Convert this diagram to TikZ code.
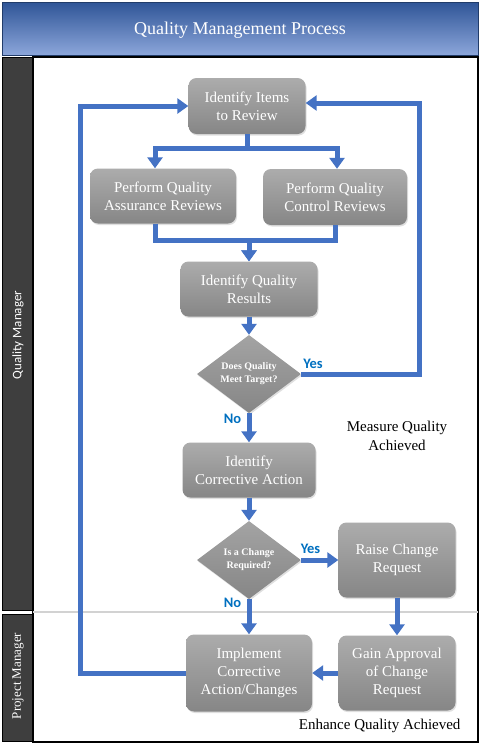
\documentclass[tikz,border=0pt]{standalone}
\usepackage{fontspec}
\setmainfont{Liberation Serif}
\newfontfamily\labelfont{Carlito}
\usetikzlibrary{shapes.geometric, arrows.meta, shadows}
\definecolor{flowBlue}{RGB}{68,114,196}
\definecolor{answerBlue}{RGB}{0,112,192}
\definecolor{titleTop}{RGB}{47,85,151}
\definecolor{titleBot}{RGB}{140,166,218}
\definecolor{boxTop}{RGB}{172,172,172}
\definecolor{boxBot}{RGB}{134,134,134}
\definecolor{laneDark}{RGB}{62,62,62}

\begin{document}
\begin{tikzpicture}[x=1pt, y=-1pt,
    procbox/.style={rectangle, rounded corners=8pt, top color=boxTop, bottom color=boxBot, text=white, align=center, font=\fontsize{15}{18}\selectfont, drop shadow={opacity=0.25, shadow xshift=1pt, shadow yshift=-1.5pt}},
    decision/.style={diamond, aspect=1.33, minimum width=104pt, minimum height=78pt, inner sep=0pt, top color=boxTop!95!black, bottom color=boxBot, text=white, align=center, font=\fontsize{10}{13}\selectfont\bfseries, drop shadow={opacity=0.25, shadow xshift=1pt, shadow yshift=-1.5pt}},
    flow/.style={draw=flowBlue, line width=5pt, -{Triangle[width=15pt,length=11pt]}},
    answer/.style={font=\labelfont\fontsize{14.5}{14.5}\selectfont\bfseries, text=answerBlue},
    note/.style={font=\fontsize{15}{19}\selectfont, align=center},
    lane/.style={rotate=90, text=white}
]
    % frame and swim lanes
    \useasboundingbox (0,0) rectangle (481,747);
    \fill[white] (0,0) rectangle (481,747);
    \shade[top color=titleTop, bottom color=titleBot, draw=titleTop!70!black] (2,2) rectangle (478,55);
    \node[font=\fontsize{18}{18}\selectfont, text=white] (title) at (240,30) {Quality Management Process};
    \filldraw[fill=laneDark, draw=black, line width=1pt] (2,57) rectangle (33,610);
    \filldraw[fill=laneDark, draw=black, line width=1pt] (2,614) rectangle (33,741);
    \draw[line width=1.5pt] (33,57) rectangle (478,742);
    \draw[gray!35, line width=1.5pt] (33,612) -- (478,612);
    \node[lane, font=\labelfont\fontsize{13}{13}\selectfont] (qmLane) at (18,335) {Quality Manager};
    \node[lane, font=\fontsize{13}{13}\selectfont] (pmLane) at (18,676) {Project Manager};

    % process steps
    \node[procbox, minimum width=117pt, minimum height=56pt] (items) at (247,106) {Identify Items\\to Review};
    \node[procbox, minimum width=146pt, minimum height=55pt] (qa) at (163,196) {Perform Quality\\Assurance Reviews};
    \node[procbox, minimum width=144pt, minimum height=56pt] (qc) at (335,197) {Perform Quality\\Control Reviews};
    \node[procbox, minimum width=137pt, minimum height=55pt] (results) at (249,289) {Identify Quality\\Results};
    \node[decision] (meets) at (249,374) {Does Quality\\Meet Target?};
    \node[procbox, minimum width=133pt, minimum height=55pt] (corrective) at (249,470) {Identify\\Corrective Action};
    \node[decision] (change) at (249,560) {Is a Change\\Required?};
    \node[procbox, minimum width=117pt, minimum height=75pt] (raise) at (397,560) {Raise Change\\Request};
    \node[procbox, minimum width=117pt, minimum height=75pt] (approval) at (397,673) {Gain Approval\\of Change\\Request};
    \node[procbox, minimum width=126pt, minimum height=77pt] (implement) at (249,673) {Implement\\Corrective\\Action/Changes};

    \node[note] (measure) at (397,436) {Measure Quality\\Achieved};
    \node[note, anchor=east] (enhance) at (464,726) {Enhance Quality Achieved};

    % connectors
    \coordinate (loopL) at (80,0);
    \coordinate (loopR) at (419,0);
    \coordinate (split) at (247,148);
    \coordinate (merge) at (249,240);

    \draw[flow] (items.south) -- (split) -| ([xshift=-8pt]qa.north);
    \draw[flow] (items.south) -- (split) -| ([xshift=2pt]qc.north);
    \draw[flow] ([xshift=-8pt]qa.south) |- (merge) -- (results.north);
    \draw[flow] (qc.south) |- (merge) -- (results.north);
    \draw[flow] (results.south) -- (meets.north);
    \draw[flow] (meets.east) -- (meets.east -| loopR) node[answer, pos=0.1, above] {Yes} |- ([yshift=3pt]items.east);
    \draw[flow] (meets.south) -- (corrective.north) node[answer, pos=0.2, left=2pt] {No};
    \draw[flow] (corrective.south) -- (change.north);
    \draw[flow] (change.east) -- (raise.west) node[answer, pos=0.25, above=1pt] {Yes};
    \draw[flow] (change.south) -- (implement.north) node[answer, pos=0.1, left=2pt] {No};
    \draw[flow] (raise.south) -- (approval.north);
    \draw[flow] (approval.west) -- (implement.east);
    \draw[flow] (implement.west) -- (implement.west -| loopL) |- (items.west);
\end{tikzpicture}
\end{document}
